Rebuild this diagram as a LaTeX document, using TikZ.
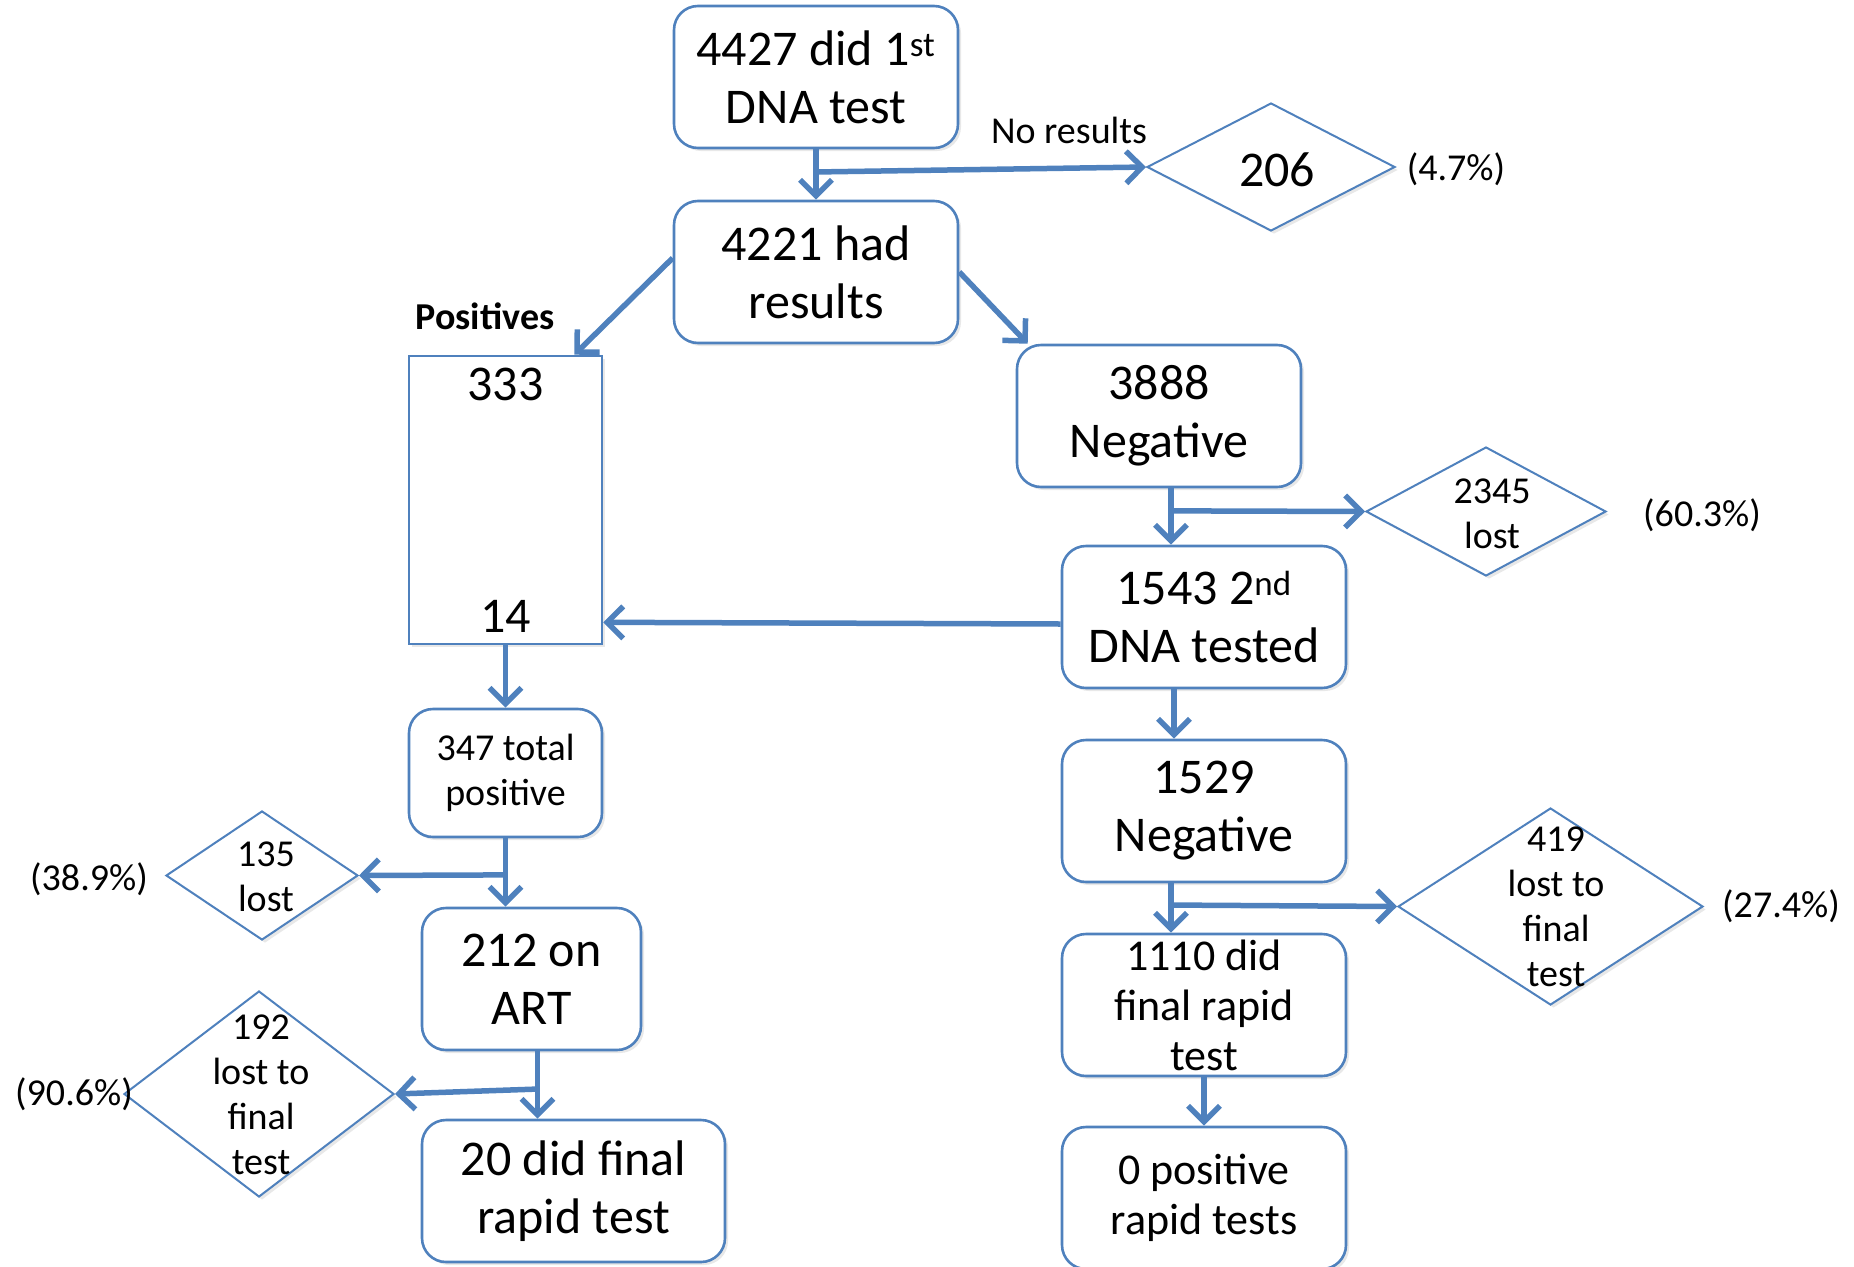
\documentclass[tikz,border=0pt]{standalone}
\usepackage{fontspec}
\setmainfont{Carlito}
\usetikzlibrary{arrows.meta,positioning,shapes.geometric,shadows,calc}

\definecolor{flowblue}{RGB}{79,129,189}
\newcommand\flowbig{\fontsize{50}{58}\selectfont}
\newcommand\flowmid{\fontsize{44}{50}\selectfont}
\newcommand\flowsmall{\fontsize{38}{45}\selectfont}

\begin{document}
\begin{tikzpicture}[x=1pt, y=-1pt, >={Straight Barb[length=16pt,width=32pt]},
    box/.style={draw=flowblue, line width=2.6pt, rounded corners=24pt, fill=white, align=center,
        inner sep=0pt, minimum width=284pt, minimum height=142pt, font=\flowbig,
        drop shadow={opacity=0.18, shadow xshift=3pt, shadow yshift=-3pt}},
    diam/.style={diamond, draw=flowblue, line width=2pt, fill=white, inner sep=0pt,
        drop shadow={opacity=0.18, shadow xshift=3pt, shadow yshift=-3pt}},
    txt/.style={align=center, inner sep=0pt, font=\flowsmall},
    flow/.style={->, draw=flowblue, line width=5.5pt}]
    \useasboundingbox (0,0) rectangle (1854,1266);

    % Main column
    \node[box] (first) at (816,77) {4427 did 1\textsuperscript{st}\\DNA test};
    \node[box] (hadres) at (816,272) {4221 had\\results};

    % No results branch
    \node[diam, minimum width=248pt, minimum height=128pt] (nores) at (1271,167) {};
    \node[txt, font=\flowbig] (nores206) at (1277,170) {206};
    \node[txt] (noreslbl) at (1069,130) {No results};
    \node[txt] (pct206) at (1456,169) {(4.7\%)};

    % Positives side
    \node[txt, font=\flowsmall\bfseries] (poslbl) at (485,316) {Positives};
    \node[box, sharp corners, minimum width=193pt, minimum height=288pt] (pos) at (505.5,500)
        {333\\~\\~\\~\\14};
    \node[box, font=\flowsmall, minimum width=193pt, minimum height=128pt] (total) at (505.5,773)
        {347 total\\positive};
    \node[box, minimum width=219pt] (art) at (531.5,979) {212 on\\ART};
    \node[box, minimum width=303pt] (final) at (573.5,1191) {20 did final\\rapid test};

    \node[diam, minimum width=192pt, minimum height=129pt] (lost135) at (262,875.5) {};
    \node[txt] (lost135txt) at (266,877) {135\\lost};
    \node[txt] (pct135) at (89,879) {(38.9\%)};
    \node[diam, minimum width=270pt, minimum height=206pt] (lost192) at (259,1094) {};
    \node[txt] (lost192txt) at (261,1095) {192\\lost to\\final\\test};
    \node[txt] (pct192) at (74,1094) {(90.6\%)};

    % Negatives side
    \node[box] (neg) at (1159,416) {3888\\Negative};
    \node[box] (sec) at (1204,617) {1543 2\textsuperscript{nd}\\DNA tested};
    \node[box] (neg1529) at (1204,811) {1529\\Negative};
    \node[box, font=\flowmid] (fin1110) at (1204,1005) {1110 did\\final rapid\\test};
    \node[box, font=\flowmid] (zero) at (1204,1198) {0 positive\\rapid tests};

    \node[diam, minimum width=240pt, minimum height=129pt] (lost2345) at (1486,511.5) {};
    \node[txt] (lost2345txt) at (1492,514) {2345\\lost};
    \node[txt] (pct2345) at (1702,515) {(60.3\%)};
    \node[diam, minimum width=305pt, minimum height=197pt] (lost419) at (1550.5,906.5) {};
    \node[txt] (lost419txt) at (1556,907) {419\\lost to\\final\\test};
    \node[txt] (pct419) at (1781,906) {(27.4\%)};

    % Fork points
    \coordinate (forkA) at ($(first.south)!0.45!(hadres.north)$);
    \coordinate (negdown) at ([xshift=12pt]neg.south);
    \coordinate (forkB) at ($(negdown)!0.4!(negdown |- sec.north)$);
    \coordinate (n1529down) at ([xshift=-33pt]neg1529.south);
    \coordinate (forkC) at ($(n1529down)!0.44!(n1529down |- fin1110.north)$);
    \coordinate (forkD) at ($(total.south)!0.535!(total.south |- art.north)$);
    \coordinate (artdown) at ([xshift=6pt]art.south);
    \coordinate (forkE) at ($(artdown)!0.56!(artdown |- final.north)$);

    % Connectors
    \draw[flow] (first.south) -- (hadres.north);
    \draw[flow] (forkA) -- (nores.west);
    \draw[flow] ([yshift=14pt]hadres.west) -- ([xshift=-29pt]pos.north east);
    \draw[flow] (hadres.east) -- ([xshift=12pt]neg.north west);
    \draw[flow] (negdown) -- (negdown |- sec.north);
    \draw[flow] (forkB) -- (lost2345.west);
    \draw[flow] ([yshift=-7pt]sec.west) -- ([yshift=23pt]pos.south east);
    \draw[flow] ([xshift=-30pt]sec.south) -- ([xshift=-30pt]neg1529.north);
    \draw[flow] (n1529down) -- (n1529down |- fin1110.north);
    \draw[flow] (forkC) -- (lost419.west);
    \draw[flow] (fin1110.south) -- (zero.north);
    \draw[flow] (pos.south) -- (total.north);
    \draw[flow] (total.south) -- (total.south |- art.north);
    \draw[flow] (forkD) -- (lost135.east);
    \draw[flow] (artdown) -- (artdown |- final.north);
    \draw[flow] (forkE) -- (lost192.east);

\end{tikzpicture}
\end{document}
